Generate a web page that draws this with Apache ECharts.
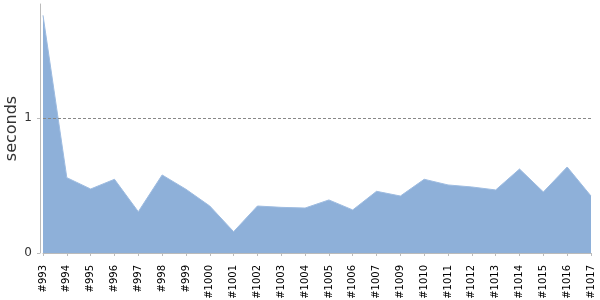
<!DOCTYPE html>
<html><head><meta charset="utf-8">
<script src="https://cdn.jsdelivr.net/npm/echarts@6/dist/echarts.min.js"></script>
<style>html,body{margin:0;padding:0;background:#fff}#c{width:600px;height:300px}</style>
</head><body><div id="c"></div>
<script>
const categories = ['#993','#994','#995','#996','#997','#998','#999','#1000','#1001','#1002','#1003','#1004','#1005','#1006','#1007','#1009','#1010','#1011','#1012','#1013','#1014','#1015','#1016','#1017'];
const seconds = [1.76,0.558,0.474,0.546,0.306,0.578,0.472,0.348,0.158,0.348,0.338,0.333,0.393,0.319,0.457,0.422,0.546,0.504,0.489,0.467,0.622,0.452,0.637,0.422];
const yTicks = [0, 1];
const refLine = 1;

const chart = echarts.init(document.getElementById('c'), null, {renderer:'canvas'});
chart.setOption({
  animation:false,
  grid:{left:43,right:9,top:4,bottom:47,containLabel:false,outerBoundsMode:'none'},
  xAxis:{
    type:'category', data:categories, boundaryGap:false, offset:4,
    axisLine:{lineStyle:{color:'#bbb'}},
    axisTick:{length:3, lineStyle:{color:'#bbb'}, alignWithLabel:true},
    axisLabel:{rotate:90, fontSize:10, color:'#000', fontFamily:'DejaVu Sans', margin:8, interval:0, hideOverlap:false}
  },
  yAxis:{
    type:'value', min:0, max:1.844, interval:1, offset:3,
    name:'seconds', nameLocation:'middle', nameGap:20, nameMoveOverlap:false,
    nameTextStyle:{fontSize:16, color:'#333', fontFamily:'DejaVu Sans'},
    axisLine:{show:true, lineStyle:{color:'#bbb'}},
    axisTick:{show:true, length:3, lineStyle:{color:'#bbb'}},
    axisLabel:{fontSize:12, color:'#333', fontFamily:'DejaVu Sans', margin:8, showMaxLabel:false,
      formatter:v => yTicks.includes(v) ? String(v) : ''},
    splitLine:{show:false}
  },
  series:[{
    type:'line', data:seconds, symbol:'none',
    lineStyle:{width:1, color:'#9dbbe0'},
    areaStyle:{color:'#8eb0d9', opacity:1},
    markLine:{silent:true, symbol:'none', label:{show:false},
      lineStyle:{type:[3,2], color:'#888', width:1},
      data:[{yAxis:refLine}]}
  }]
});
</script></body></html>
